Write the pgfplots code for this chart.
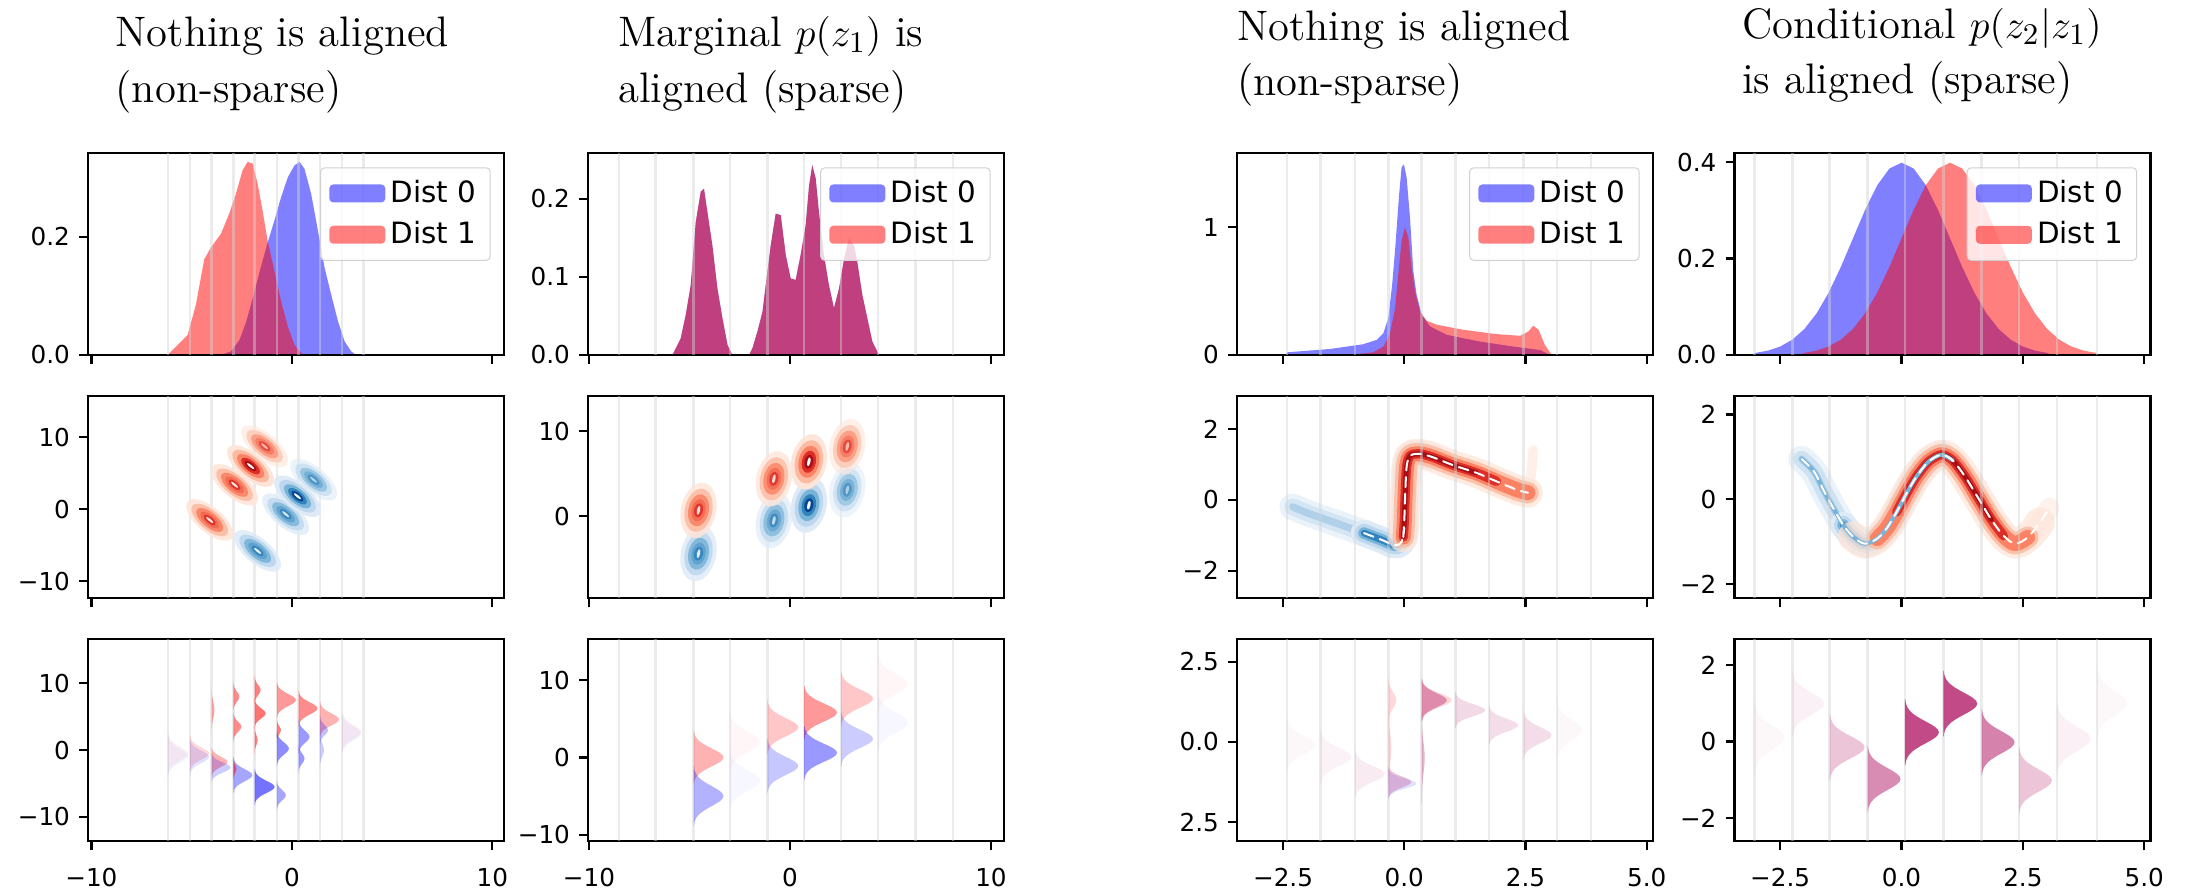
\documentclass[border=0pt]{standalone}
\usepackage{fontspec}
\setsansfont{DejaVu Sans}
\usepackage{pgfplots}
\usepackage{pgfplotstable}
\pgfplotsset{compat=1.18}

\definecolor{hblue}{RGB}{0,0,255}
\definecolor{hred}{RGB}{255,0,0}
\definecolor{mag}{RGB}{191,64,128}
\definecolor{gridc}{RGB}{211,211,211}
\definecolor{rA}{RGB}{254,229,217}
\definecolor{rB}{RGB}{252,187,161}
\definecolor{rC}{RGB}{251,130,100}
\definecolor{rD}{RGB}{222,45,38}
\definecolor{rE}{RGB}{165,15,21}
\definecolor{bA}{RGB}{222,235,247}
\definecolor{bB}{RGB}{189,215,238}
\definecolor{bC}{RGB}{120,180,216}
\definecolor{bD}{RGB}{49,130,189}
\definecolor{bE}{RGB}{8,69,148}

% nested kde blob, unit radius 1pt
\newcommand\defblob[6]{%
  \pgfdeclareplotmark{#1}{%
    \pgfsetfillcolor{#2}\pgfpathcircle{\pgfpointorigin}{1pt}\pgfusepathqfill
    \pgfsetfillcolor{#3}\pgfpathcircle{\pgfpointorigin}{0.78pt}\pgfusepathqfill
    \pgfsetfillcolor{#4}\pgfpathcircle{\pgfpointorigin}{0.58pt}\pgfusepathqfill
    \pgfsetfillcolor{#5}\pgfpathcircle{\pgfpointorigin}{0.4pt}\pgfusepathqfill
    \pgfsetfillcolor{#6}\pgfpathcircle{\pgfpointorigin}{0.25pt}\pgfusepathqfill
    \pgfsetfillcolor{white}\pgfpathellipse{\pgfpointorigin}{\pgfqpoint{0.16pt}{0pt}}{\pgfqpoint{0pt}{0.09pt}}\pgfusepathqfill}}
\defblob{rdark}{rA}{rB}{rC}{rD}{rE}
\defblob{rmed}{rA}{rB}{rC}{rC!70!rD}{rD}
\defblob{bdark}{bA}{bB}{bC}{bD}{bE}
\defblob{bmed}{bA}{bB}{bC}{bC!60!bD}{bD}

% half gaussian (ridge), peak 1pt, sigma 1pt
\newcommand\defhg[2]{%
  \pgfdeclareplotmark{#1}{%
    \pgfsetfillcolor{#2}%
    \pgfpathmoveto{\pgfqpoint{0pt}{-3pt}}%
    \pgfpathlineto{\pgfqpoint{0.0111pt}{-3pt}}\pgfpathlineto{\pgfqpoint{0.0228pt}{-2.75pt}}%
    \pgfpathlineto{\pgfqpoint{0.0439pt}{-2.5pt}}\pgfpathlineto{\pgfqpoint{0.0796pt}{-2.25pt}}%
    \pgfpathlineto{\pgfqpoint{0.1353pt}{-2pt}}\pgfpathlineto{\pgfqpoint{0.2163pt}{-1.75pt}}%
    \pgfpathlineto{\pgfqpoint{0.3247pt}{-1.5pt}}\pgfpathlineto{\pgfqpoint{0.4578pt}{-1.25pt}}%
    \pgfpathlineto{\pgfqpoint{0.6065pt}{-1pt}}\pgfpathlineto{\pgfqpoint{0.7548pt}{-0.75pt}}%
    \pgfpathlineto{\pgfqpoint{0.8825pt}{-0.5pt}}\pgfpathlineto{\pgfqpoint{0.9692pt}{-0.25pt}}%
    \pgfpathlineto{\pgfqpoint{1pt}{0pt}}%
    \pgfpathlineto{\pgfqpoint{0.9692pt}{0.25pt}}\pgfpathlineto{\pgfqpoint{0.8825pt}{0.5pt}}%
    \pgfpathlineto{\pgfqpoint{0.7548pt}{0.75pt}}\pgfpathlineto{\pgfqpoint{0.6065pt}{1pt}}%
    \pgfpathlineto{\pgfqpoint{0.4578pt}{1.25pt}}\pgfpathlineto{\pgfqpoint{0.3247pt}{1.5pt}}%
    \pgfpathlineto{\pgfqpoint{0.2163pt}{1.75pt}}\pgfpathlineto{\pgfqpoint{0.1353pt}{2pt}}%
    \pgfpathlineto{\pgfqpoint{0.0796pt}{2.25pt}}\pgfpathlineto{\pgfqpoint{0.0439pt}{2.5pt}}%
    \pgfpathlineto{\pgfqpoint{0.0228pt}{2.75pt}}\pgfpathlineto{\pgfqpoint{0.0111pt}{3pt}}%
    \pgfpathlineto{\pgfqpoint{0pt}{3pt}}\pgfpathclose\pgfusepathqfill}}
\defhg{hgR}{hred}
\defhg{hgB}{hblue}
\defhg{hgP}{mag}

% ridge: mark, x, y, width px, sigma px, opacity
\newcommand\vio[6]{\addplot[only marks, mark=#1, mark options={xscale=#4*0.3, yscale=#5*0.3, opacity=#6}] coordinates {(#2,#3)};}
% blob: mark, x, y, xscale, yscale, rotate, opacity
\newcommand\blob[7]{\addplot[only marks, mark=#1, mark options={rotate=#6, xscale=#4, yscale=#5, opacity=#7}] coordinates {(#2,#3)};}

\pgfplotsset{
  panel/.style={
    scale only axis, width=124.8pt, height=60.6pt, anchor=south west,
    axis on top, tick align=outside, xtick pos=left, ytick pos=left,
    major tick length=2.7pt,
    axis line style={line width=0.66pt},
    every tick/.style={black, line width=0.66pt},
    tick label style={font=\sffamily\fontsize{7.4}{8.5}\selectfont},
    xticklabel style={yshift=-2pt},
    yticklabel style={xshift=0.8pt},
    major grid style={draw=gridc, line width=0.8pt, opacity=0.45},
    extra x tick style={grid=major, major tick length=0pt},
    extra x tick labels={},
  },
  c1/.style={panel, xmin=-10.17, xmax=10.58, xtick={-10,0,10},
    extra x ticks={-6.18,-5.08,-4.01,-2.92,-1.86,-0.75,0.33,1.4,2.5,3.58}},
  c2/.style={panel, xmin=-10.05, xmax=10.65, xtick={-10,0,10},
    extra x ticks={-8.5,-6.68,-4.8,-2.98,-1.13,0.70,2.54,4.38,6.24,8.11}},
  c3/.style={panel, xmin=-3.45, xmax=5.13, xtick={-2.5,0,2.5,5},
    extra x ticks={-2.42,-1.73,-1.02,-0.33,0.36,1.05,1.75,2.46,3.15,3.85}},
  c4/.style={panel, xmin=-3.44, xmax=5.13, xtick={-2.5,0,2.5,5},
    extra x ticks={-3.03,-2.25,-1.48,-0.70,0.07,0.86,1.65,2.42,3.20,4.03}},
  nolab/.style={xticklabels={}},
  leg/.style={
    legend style={at={(1,1)}, anchor=north east, xshift=-4pt, yshift=-4.3pt,
      draw=black!18, line width=0.3pt, rounded corners=1.2pt, fill=white,
      fill opacity=0.8, text opacity=1,
      font=\sffamily\fontsize{8.8}{10}\selectfont,
      inner xsep=2.6pt, inner ysep=2pt, row sep=1pt, nodes={inner sep=1.6pt}},
    legend cell align=left,
    legend image code/.code={\fill[##1] (0pt,-2.7pt) rectangle (16.8pt,2.7pt);},
  },
}

\pgfplotstableread{
x y
-2.3 -0.2
-1.98 -0.38
-1.4 -0.66
-0.83 -0.94
-0.45 -1.14
-0.2 -1.28
-0.06 -1.2
0.0 -0.8
0.02 0.2
0.05 0.95
0.12 1.24
0.3 1.3
0.57 1.21
}\bthree

\pgfplotstableread{
x y
-0.02 -1.05
0.0 -0.6
0.02 0.2
0.05 0.95
0.12 1.24
0.3 1.3
0.57 1.21
1.0 0.98
1.49 0.76
1.9 0.52
2.33 0.28
2.55 0.2
}\rthree

\pgfplotstableread{
x y
-2.06 0.95
-1.8 0.65
-1.6 0.20
-1.4 -0.22
-1.2 -0.61
-1.0 -0.88
-0.76 -1.05
-0.5 -0.93
-0.3 -0.68
-0.1 -0.30
0.1 0.13
0.3 0.52
0.55 0.88
0.82 1.05
1.05 0.92
1.3 0.55
1.6 -0.01
1.85 -0.48
2.1 -0.86
2.34 -1.05
2.6 -0.9
2.85 -0.55
3.05 -0.2
}\cfour

\begin{document}
\begin{tikzpicture}
\path[use as bounding box] (0,0) rectangle (657.3pt,-266.4pt);

% titles
\begin{scope}[every node/.style={anchor=base west, inner sep=0pt, font=\fontsize{12.8}{15}\selectfont}]
\node at (34.5pt,-14.1pt) {Nothing is aligned};
\node at (34.5pt,-30.9pt) {(non-sparse)};
\node at (185.3pt,-14.1pt) {Marginal $p(z_1)$ is};
\node at (185.3pt,-30.9pt) {aligned (sparse)};
\node at (370.9pt,-12.3pt) {Nothing is aligned};
\node at (370.9pt,-28.8pt) {(non-sparse)};
\node at (522.5pt,-11.7pt) {Conditional $p(z_2|z_1)$};
\node at (522.5pt,-28.2pt) {is aligned (sparse)};
\end{scope}

% ---------------- row 1: histograms ----------------
\begin{axis}[c1, nolab, leg, at={(26.4pt,-106.5pt)}, ymin=0, ymax=0.342,
  ytick={0,0.2}, yticklabels={0.0,0.2}]
\addplot[fill=hblue, fill opacity=0.5, draw=none] coordinates {
 (-3.54,0) (-3.04,0.006) (-2.62,0.025) (-2.29,0.055) (-1.96,0.095) (-1.54,0.15)
 (-1.21,0.19) (-0.87,0.228) (-0.54,0.267) (-0.2,0.301) (0.13,0.321) (0.38,0.327)
 (0.63,0.315) (0.96,0.273) (1.3,0.21) (1.63,0.148) (1.96,0.102) (2.3,0.057)
 (2.63,0.023) (2.96,0.006) (3.21,0)} \closedcycle;
\addlegendentry{Dist 0}
\addplot[fill=hred, fill opacity=0.5, draw=none] coordinates {
 (-6.2,0) (-5.7,0.017) (-5.2,0.034) (-4.79,0.085) (-4.37,0.162) (-4.04,0.182)
 (-3.54,0.205) (-3.13,0.239) (-2.79,0.273) (-2.46,0.3125) (-2.21,0.327) (-1.96,0.324)
 (-1.71,0.29) (-1.46,0.244) (-1.21,0.193) (-0.87,0.142) (-0.54,0.091) (-0.2,0.048)
 (0.13,0.017) (0.55,0)} \closedcycle;
\addlegendentry{Dist 1}
\end{axis}

\begin{axis}[c2, nolab, leg, at={(176.4pt,-106.5pt)}, ymin=0, ymax=0.2586,
  ytick={0,0.1,0.2}, yticklabels={0.0,0.1,0.2}]
\addplot[fill=hblue, fill opacity=0.5, draw=none] coordinates {
 (-5.85,0) (-5.44,0.021) (-5.19,0.051) (-4.94,0.089) (-4.69,0.17) (-4.44,0.209)
 (-4.28,0.213) (-4.11,0.183) (-3.86,0.14) (-3.61,0.085) (-3.36,0.047) (-3.11,0.013)
 (-2.87,0) (-2.04,0) (-1.87,0.0085) (-1.62,0.03) (-1.37,0.055) (-1.21,0.089)
 (-0.96,0.14) (-0.71,0.181) (-0.46,0.179) (-0.21,0.128) (0.035,0.098) (0.28,0.096)
 (0.53,0.128) (0.78,0.166) (0.95,0.217) (1.11,0.243) (1.28,0.226) (1.44,0.183)
 (1.69,0.128) (1.94,0.089) (2.19,0.06) (2.44,0.085) (2.69,0.123) (2.94,0.149)
 (3.19,0.14) (3.35,0.119) (3.60,0.077) (3.85,0.047) (4.10,0.017) (4.43,0)} \closedcycle;
\addlegendentry{Dist 0}
\addplot[fill=hred, fill opacity=0.5, draw=none] coordinates {
 (-5.85,0) (-5.44,0.021) (-5.19,0.051) (-4.94,0.089) (-4.69,0.17) (-4.44,0.209)
 (-4.28,0.213) (-4.11,0.183) (-3.86,0.14) (-3.61,0.085) (-3.36,0.047) (-3.11,0.013)
 (-2.87,0) (-2.04,0) (-1.87,0.0085) (-1.62,0.03) (-1.37,0.055) (-1.21,0.089)
 (-0.96,0.14) (-0.71,0.181) (-0.46,0.179) (-0.21,0.128) (0.035,0.098) (0.28,0.096)
 (0.53,0.128) (0.78,0.166) (0.95,0.217) (1.11,0.243) (1.28,0.226) (1.44,0.183)
 (1.69,0.128) (1.94,0.089) (2.19,0.06) (2.44,0.085) (2.69,0.123) (2.94,0.149)
 (3.19,0.14) (3.35,0.119) (3.60,0.077) (3.85,0.047) (4.10,0.017) (4.43,0)} \closedcycle;
\addlegendentry{Dist 1}
\end{axis}

\begin{axis}[c3, nolab, leg, at={(371.1pt,-106.5pt)}, ymin=0, ymax=1.58,
  ytick={0,1}, yticklabels={0,1}]
\addplot[fill=hblue, fill opacity=0.5, draw=none] coordinates {
 (-2.42,0) (-2.42,0.021) (-1.53,0.047) (-0.85,0.084) (-0.57,0.118) (-0.43,0.171)
 (-0.33,0.289) (-0.25,0.55) (-0.18,0.87) (-0.11,1.24) (-0.055,1.47) (-0.007,1.49)
 (0.048,1.39) (0.117,1.08) (0.186,0.66) (0.255,0.47) (0.358,0.316) (0.53,0.224)
 (0.874,0.158) (1.56,0.105) (2.25,0.066) (2.8,0.039) (3.01,0)} \closedcycle;
\addlegendentry{Dist 0}
\addplot[fill=hred, fill opacity=0.5, draw=none] coordinates {
 (-1.12,0) (-0.64,0.021) (-0.43,0.066) (-0.30,0.158) (-0.19,0.368) (-0.124,0.632)
 (-0.055,0.895) (0.014,1.0) (0.083,0.92) (0.151,0.684) (0.22,0.5) (0.323,0.342)
 (0.461,0.268) (0.668,0.237) (1.22,0.197) (1.91,0.163) (2.39,0.15) (2.56,0.184)
 (2.66,0.229) (2.77,0.197) (2.9,0.079) (3.04,0)} \closedcycle;
\addlegendentry{Dist 1}
\end{axis}

\begin{axis}[c4, nolab, leg, at={(520.35pt,-106.5pt)}, ymin=0, ymax=0.419,
  ytick={0,0.2,0.4}, yticklabels={0.0,0.2,0.4}]
\addplot[fill=hblue, fill opacity=0.5, draw=none] coordinates {
 (-3.1,0) (-3.0,0.0044) (-2.75,0.0091) (-2.5,0.0175) (-2.25,0.0317) (-2,0.054)
 (-1.75,0.0863) (-1.5,0.1295) (-1.25,0.1826) (-1,0.242) (-0.75,0.3011) (-0.5,0.3521)
 (-0.25,0.3867) (0,0.3989) (0.25,0.3867) (0.5,0.3521) (0.75,0.3011) (1,0.242)
 (1.25,0.1826) (1.5,0.1295) (1.75,0.0863) (2,0.054) (2.25,0.0317) (2.5,0.0175)
 (2.75,0.0091) (3.0,0.0044) (3.1,0)} \closedcycle;
\addlegendentry{Dist 0}
\addplot[fill=hred, fill opacity=0.5, draw=none] coordinates {
 (-2.1,0) (-2.0,0.0044) (-1.75,0.0091) (-1.5,0.0175) (-1.25,0.0317) (-1,0.054)
 (-0.75,0.0863) (-0.5,0.1295) (-0.25,0.1826) (0,0.242) (0.25,0.3011) (0.5,0.3521)
 (0.75,0.3867) (1,0.3989) (1.25,0.3867) (1.5,0.3521) (1.75,0.3011) (2,0.242)
 (2.25,0.1826) (2.5,0.1295) (2.75,0.0863) (3,0.054) (3.25,0.0317) (3.5,0.0175)
 (3.75,0.0091) (4.0,0.0044) (4.05,0)} \closedcycle;
\addlegendentry{Dist 1}
\end{axis}

% ---------------- row 2: joint densities ----------------
\begin{axis}[c1, nolab, at={(26.4pt,-179.5pt)}, ymin=-12.4, ymax=15.7,
  ytick={-10,0,10}, yticklabels={−10,0,10}]
\blob{bmed}{-1.71}{-5.8}{8.6}{3.8}{-40}{0.9}
\blob{bmed}{-0.31}{-0.7}{8.6}{3.8}{-40}{0.8}
\blob{bdark}{0.28}{1.8}{8.6}{3.8}{-40}{1}
\blob{bmed}{1.08}{4.1}{8.6}{3.8}{-40}{0.6}
\blob{rmed}{-4.1}{-1.5}{8.6}{3.8}{-40}{0.9}
\blob{rmed}{-2.86}{3.4}{8.6}{3.8}{-40}{0.9}
\blob{rdark}{-2.06}{6.0}{8.6}{3.8}{-40}{1}
\blob{rmed}{-1.36}{8.75}{8.6}{3.8}{-40}{0.6}
\end{axis}

\begin{axis}[c2, nolab, at={(176.4pt,-179.5pt)}, ymin=-9.65, ymax=14.1,
  ytick={0,10}, yticklabels={0,10}]
\blob{bmed}{-4.55}{-4.4}{8.4}{5.3}{78}{0.85}
\blob{bmed}{-0.8}{-0.5}{8.4}{5.3}{78}{0.7}
\blob{bdark}{0.94}{1.3}{8.4}{5.3}{78}{1}
\blob{bmed}{2.85}{3.1}{8.4}{5.3}{78}{0.55}
\blob{rmed}{-4.55}{0.7}{8.4}{5.3}{78}{0.85}
\blob{rmed}{-0.8}{4.4}{8.4}{5.3}{78}{0.8}
\blob{rdark}{0.94}{6.4}{8.4}{5.3}{78}{1}
\blob{rmed}{2.85}{8.2}{8.4}{5.3}{78}{0.6}
\end{axis}

\begin{axis}[c3, nolab, at={(371.1pt,-179.5pt)}, ymin=-2.78, ymax=2.92,
  ytick={-2,0,2}, yticklabels={−2,0,2},
  every axis plot/.append style={smooth, no marks, line cap=round, line join=round}]
\addplot[draw=bA, line width=8pt, opacity=0.6, restrict x to domain=-2.4:-0.7] table {\bthree};
\addplot[draw=bB, line width=5pt, opacity=0.5, restrict x to domain=-2.4:-0.7] table {\bthree};
\addplot[draw=bC, line width=2.2pt, opacity=0.4, restrict x to domain=-2.4:-0.7] table {\bthree};
\addplot[draw=bA, line width=8pt, restrict x to domain=-0.9:0.6] table {\bthree};
\addplot[draw=bB, line width=5.5pt, restrict x to domain=-0.9:0.6] table {\bthree};
\addplot[draw=bC, line width=3.5pt, restrict x to domain=-0.9:0.6] table {\bthree};
\addplot[draw=bD, line width=2pt, restrict x to domain=-0.9:0.6] table {\bthree};
\addplot[draw=rA, line width=3pt, opacity=0.6] coordinates {(2.55,0.25) (2.62,0.8) (2.66,1.4)};
\addplot[draw=rA, line width=9pt, opacity=0.75] table {\rthree};
\addplot[draw=rB, line width=6.5pt, opacity=0.85] table {\rthree};
\addplot[draw=rC, line width=4.5pt] table {\rthree};
\addplot[draw=rD, line width=2.8pt, restrict x to domain=-0.1:2.1] table {\rthree};
\addplot[draw=rE, line width=1.5pt, restrict x to domain=-0.1:1.6] table {\rthree};
\addplot[draw=white, line width=0.6pt, dash pattern=on 3pt off 2pt] table {\rthree};
\addplot[draw=white, line width=0.6pt, dash pattern=on 3pt off 2pt, restrict x to domain=-0.9:0] table {\bthree};
\end{axis}

\begin{axis}[c4, nolab, at={(520.35pt,-179.5pt)}, ymin=-2.34, ymax=2.43,
  ytick={-2,0,2}, yticklabels={−2,0,2},
  every axis plot/.append style={smooth, no marks, line cap=round, line join=round}]
\addplot[draw=bA, line width=8pt, opacity=0.6, restrict x to domain=-2.1:-1.1] table {\cfour};
\addplot[draw=bB, line width=5pt, opacity=0.6, restrict x to domain=-2.1:-1.1] table {\cfour};
\addplot[draw=bC, line width=2pt, opacity=0.5, restrict x to domain=-2.1:-1.1] table {\cfour};
\addplot[draw=bA, line width=8pt, restrict x to domain=-1.3:0.9] table {\cfour};
\addplot[draw=bB, line width=5.5pt, restrict x to domain=-1.3:0.9] table {\cfour};
\addplot[draw=bC, line width=3.5pt, restrict x to domain=-1.3:0.9] table {\cfour};
\addplot[draw=bD, line width=2pt, restrict x to domain=-1.3:0.9] table {\cfour};
\addplot[draw=rA, line width=9pt, opacity=0.75, restrict x to domain=-1.0:2.9] table {\cfour};
\addplot[draw=rA, line width=6pt, opacity=0.5, restrict x to domain=2.6:3.1] table {\cfour};
\addplot[draw=rB, line width=6.5pt, opacity=0.85, restrict x to domain=-0.7:2.75] table {\cfour};
\addplot[draw=rC, line width=4.5pt, restrict x to domain=-0.5:2.6] table {\cfour};
\addplot[draw=rD, line width=2.8pt, restrict x to domain=-0.2:2.2] table {\cfour};
\addplot[draw=rE, line width=1.5pt, restrict x to domain=0.1:1.9] table {\cfour};
\addplot[draw=bC, line width=1.2pt, restrict x to domain=-2.1:1.2] table {\cfour};
\addplot[draw=white, line width=0.6pt, dash pattern=on 3pt off 2pt, restrict x to domain=-2.1:3.1] table {\cfour};
\end{axis}

% ---------------- row 3: conditional ridges ----------------
\begin{axis}[c1, xticklabels={−10,0,10}, at={(26.4pt,-252.3pt)}, ymin=-13.6, ymax=16.64,
  ytick={-10,0,10}, yticklabels={−10,0,10}]
\vio{hgR}{-6.18}{-0.5}{20}{7}{0.05}
\vio{hgB}{-6.18}{-0.8}{20}{7}{0.05}
\vio{hgR}{-5.08}{-0.5}{19}{6}{0.15}
\vio{hgB}{-5.08}{-1.0}{19}{6}{0.12}
\vio{hgR}{-4.01}{-1.75}{16}{5}{0.3}
\vio{hgB}{-4.01}{-2.6}{19}{5}{0.2}
\vio{hgR}{-4.01}{6.0}{3}{8}{0.35}
\vio{hgR}{-2.92}{8.0}{6}{5}{0.45}
\vio{hgR}{-2.92}{3.5}{8}{5}{0.45}
\vio{hgB}{-2.92}{-3.75}{19}{6}{0.35}
\vio{hgR}{-2.92}{-2.8}{3}{4}{0.5}
\vio{hgR}{-1.86}{9.0}{6}{5}{0.5}
\vio{hgR}{-1.86}{5.5}{11}{5}{0.55}
\vio{hgR}{-1.86}{1.5}{3}{5}{0.5}
\vio{hgB}{-1.86}{-5.5}{20}{6}{0.55}
\vio{hgR}{-0.75}{7.5}{19}{6}{0.4}
\vio{hgR}{-0.75}{3.0}{4}{4}{0.5}
\vio{hgB}{-0.75}{0.25}{12}{6}{0.45}
\vio{hgB}{-0.75}{-6.75}{9}{5}{0.35}
\vio{hgR}{0.33}{6.25}{19}{6}{0.45}
\vio{hgB}{0.33}{2.0}{11}{6}{0.4}
\vio{hgB}{0.33}{-1.25}{6}{5}{0.4}
\vio{hgR}{1.4}{4.6}{19}{6}{0.3}
\vio{hgB}{1.4}{3.0}{8}{5}{0.25}
\vio{hgB}{1.4}{0.0}{4}{6}{0.2}
\vio{hgR}{2.5}{2.75}{19}{7}{0.05}
\vio{hgB}{2.5}{2.5}{19}{7}{0.05}
\end{axis}

\begin{axis}[c2, xticklabels={−10,0,10}, at={(176.4pt,-252.3pt)}, ymin=-10.8, ymax=15.3,
  ytick={-10,0,10}, yticklabels={−10,0,10}]
\vio{hgR}{-4.8}{0.0}{30}{9}{0.3}
\vio{hgB}{-4.8}{-5.0}{30}{10}{0.3}
\vio{hgR}{-2.98}{2.0}{30}{10}{0.03}
\vio{hgB}{-2.98}{-3.0}{30}{10}{0.03}
\vio{hgR}{-1.13}{3.9}{31}{9}{0.22}
\vio{hgB}{-1.13}{-1.1}{31}{9}{0.22}
\vio{hgR}{0.70}{5.8}{33}{9}{0.4}
\vio{hgB}{0.70}{0.6}{33}{9}{0.4}
\vio{hgR}{2.54}{7.6}{32}{9}{0.22}
\vio{hgB}{2.54}{2.4}{32}{9}{0.2}
\vio{hgR}{4.38}{9.5}{30}{10}{0.03}
\vio{hgB}{4.38}{4.5}{30}{10}{0.03}
\end{axis}

\begin{axis}[c3, xticklabels={−2.5,0.0,2.5,5.0}, at={(371.1pt,-252.3pt)}, ymin=-3.09, ymax=3.21,
  ytick={-2.5,0,2.5}, yticklabels={2.5,0.0,2.5}]
\vio{hgP}{-2.42}{-0.1}{29}{9}{0.04}
\vio{hgP}{-1.73}{-0.47}{31}{9}{0.07}
\vio{hgP}{-1.02}{-1.0}{30}{8}{0.1}
\vio{hgR}{-0.33}{1.3}{8}{8}{0.15}
\vio{hgR}{-0.33}{-0.2}{3}{15}{0.15}
\vio{hgB}{-0.33}{-1.3}{28}{5}{0.12}
\vio{hgP}{-0.33}{-1.25}{23}{5.5}{0.3}
\vio{hgR}{0.36}{1.3}{30}{7}{0.15}
\vio{hgP}{0.36}{1.3}{25}{7}{0.5}
\vio{hgP}{0.36}{-0.5}{3}{15}{0.4}
\vio{hgP}{1.05}{0.99}{30}{6}{0.2}
\vio{hgP}{1.75}{0.52}{29}{6.5}{0.18}
\vio{hgP}{2.46}{0.21}{28}{8}{0.18}
\vio{hgP}{3.15}{0.37}{25}{10}{0.04}
\end{axis}

\begin{axis}[c4, xticklabels={−2.5,0.0,2.5,5.0}, at={(520.35pt,-252.3pt)}, ymin=-2.6, ymax=2.68,
  ytick={-2,0,2}, yticklabels={−2,0,2}]
\vio{hgP}{-3.03}{0.1}{30}{12}{0.04}
\vio{hgP}{-2.25}{0.99}{32}{11}{0.08}
\vio{hgP}{-1.48}{-0.15}{35}{11}{0.3}
\vio{hgP}{-0.70}{-0.98}{33}{11}{0.6}
\vio{hgP}{0.07}{0.24}{34}{11}{0.95}
\vio{hgP}{0.86}{0.99}{34}{11}{0.95}
\vio{hgP}{1.65}{-0.02}{33}{11}{0.65}
\vio{hgP}{2.42}{-1.02}{33}{11}{0.3}
\vio{hgP}{3.20}{0.07}{34}{12}{0.08}
\vio{hgP}{4.03}{1.0}{30}{12}{0.04}
\end{axis}
\end{tikzpicture}
\end{document}
